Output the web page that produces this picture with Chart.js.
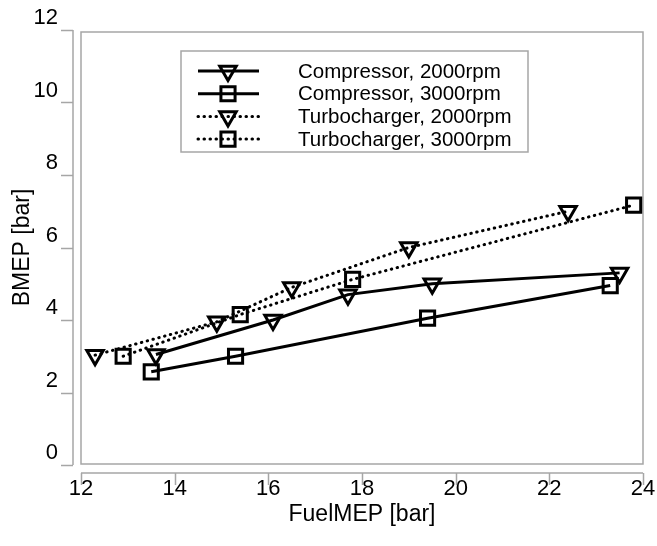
<!DOCTYPE html>
<html>
<head>
<meta charset="utf-8">
<script src="https://cdn.jsdelivr.net/npm/chart.js@4/dist/chart.umd.min.js"></script>
<style>
  html, body { margin: 0; padding: 0; background: #fff; }
  #wrap { width: 657px; height: 546px; }
</style>
</head>
<body>
<div id="wrap"><canvas id="chart" width="657" height="546"></canvas></div>
<script>
// values
const fuelComp2000  = [13.6, 16.1, 17.7, 19.5, 23.5];
const bmepComp2000  = [3.05, 4.0, 4.7, 5.0, 5.3];
const fuelComp3000  = [13.5, 15.3, 19.4, 23.3];
const bmepComp3000  = [2.57, 3.0, 4.05, 4.95];
const fuelTurbo2000 = [12.3, 14.9, 16.5, 19.0, 22.4];
const bmepTurbo2000 = [3.03, 3.95, 4.9, 6.0, 7.0];
const fuelTurbo3000 = [12.9, 15.4, 17.8, 23.8];
const bmepTurbo3000 = [3.0, 4.15, 5.12, 7.17];

const xTicks = [12, 14, 16, 18, 20, 22, 24];
const yTicks = [0, 2, 4, 6, 8, 10, 12];

const FONT = '"Liberation Sans", Arial, sans-serif';
const GRAY = '#a6a6a6';

function pts(xs, ys) { return xs.map((x, i) => ({ x: x, y: ys[i] })); }

function series(label, xs, ys, style, dotted) {
    return {
        label: label,
        data: pts(xs, ys),
        showLine: true,
        borderColor: '#000',
        borderWidth: 3,
        borderDash: dotted ? [0.5, 5.5] : [],
        borderCapStyle: dotted ? 'round' : 'butt',
        pointStyle: style,
        pointRotation: style === 'triangle' ? 180 : 0,
        pointRadius: style === 'triangle' ? 9.5 : 10,
        pointBorderWidth: 3,
        pointBorderColor: '#000',
        pointBackgroundColor: 'rgba(0,0,0,0)',
        tension: 0
    };
}

// frame, offset axes and legend box
const decor = {
    id: 'decor',
    beforeDatasetsDraw(chart) {
        const ctx = chart.ctx, a = chart.chartArea;
        ctx.save();
        ctx.strokeStyle = GRAY;
        ctx.lineWidth = 1.5;
        ctx.strokeRect(a.left, a.top + 2, a.right - a.left, a.bottom - a.top - 3);
        // y axis, moved left of the frame
        const ys = chart.scales.y, xs = chart.scales.x;
        const ax = a.left - 8;
        ctx.beginPath();
        ctx.moveTo(ax, ys.getPixelForValue(12));
        ctx.lineTo(ax, ys.getPixelForValue(0));
        yTicks.forEach(v => {
            const p = Math.round(ys.getPixelForValue(v)) + 0.5;
            ctx.moveTo(ax - 12, p);
            ctx.lineTo(ax, p);
        });
        // x axis, moved below the frame
        const ay = a.bottom + 8;
        ctx.moveTo(xs.getPixelForValue(12), ay);
        ctx.lineTo(xs.getPixelForValue(24), ay);
        xTicks.forEach(v => {
            const p = Math.round(xs.getPixelForValue(v)) + 0.5;
            ctx.moveTo(p, ay);
            ctx.lineTo(p, ay + 12);
        });
        ctx.stroke();
        ctx.restore();
    },
    afterDraw(chart) {
        const ctx = chart.ctx;
        const box = { x: 181, y: 51, w: 347, h: 101 };
        ctx.save();
        ctx.fillStyle = '#fff';
        ctx.fillRect(box.x, box.y, box.w, box.h);
        ctx.strokeStyle = GRAY;
        ctx.lineWidth = 1.5;
        ctx.strokeRect(box.x, box.y, box.w, box.h);
        chart.data.datasets.forEach((ds, i) => {
            const ry = 71 + i * 22.7;
            ctx.strokeStyle = '#000';
            ctx.lineWidth = ds.borderWidth;
            ctx.setLineDash(ds.borderDash);
            ctx.lineCap = ds.borderCapStyle;
            ctx.beginPath();
            ctx.moveTo(198, ry);
            ctx.lineTo(259, ry);
            ctx.stroke();
            ctx.setLineDash([]);
            ctx.lineCap = 'butt';
            ctx.fillStyle = 'rgba(0,0,0,0)';
            Chart.helpers.drawPoint(ctx, {
                pointStyle: ds.pointStyle,
                rotation: ds.pointRotation,
                radius: ds.pointRadius,
                borderWidth: ds.pointBorderWidth
            }, 228, ry);
            ctx.fillStyle = '#000';
            ctx.font = '20.5px ' + FONT;
            ctx.textBaseline = 'middle';
            ctx.textAlign = 'left';
            ctx.fillText(ds.label, 298, ry + 1);
        });
        ctx.restore();
    }
};

new Chart(document.getElementById('chart'), {
    type: 'scatter',
    data: {
        datasets: [
            series('Compressor, 2000rpm', fuelComp2000, bmepComp2000, 'triangle', false),
            series('Compressor, 3000rpm', fuelComp3000, bmepComp3000, 'rect', false),
            series('Turbocharger, 2000rpm', fuelTurbo2000, bmepTurbo2000, 'triangle', true),
            series('Turbocharger, 3000rpm', fuelTurbo3000, bmepTurbo3000, 'rect', true)
        ]
    },
    options: {
        responsive: false,
        animation: false,
        layout: { padding: { top: 30, right: 14, left: 0, bottom: 0 } },
        plugins: { legend: { display: false }, tooltip: { enabled: false } },
        scales: {
            x: {
                type: 'linear', min: 12, max: 24,
                afterBuildTicks: s => { s.ticks = xTicks.map(v => ({ value: v })); },
                afterFit: s => { s.height = 81; s.paddingLeft = 0; s.paddingRight = 0; },
                grid: { display: false, drawTicks: false },
                border: { display: false },
                ticks: { color: '#000', padding: 11, font: { size: 22, family: FONT } },
                title: { display: true, text: 'FuelMEP [bar]', color: '#000',
                         font: { size: 23, family: FONT }, padding: { top: 0, bottom: 18 } }
            },
            y: {
                type: 'linear', min: 0, max: 12,
                afterBuildTicks: s => { s.ticks = yTicks.map(v => ({ value: v })); },
                afterFit: s => { s.width = 81; s.paddingTop = 0; s.paddingBottom = 0; },
                grid: { display: false, drawTicks: false },
                border: { display: false },
                ticks: { color: '#000', padding: 23, labelOffset: -12, font: { size: 22, family: FONT } },
                title: { display: true, text: 'BMEP [bar]', color: '#000',
                         font: { size: 23, family: FONT }, padding: { top: 9, bottom: 0 } }
            }
        }
    },
    plugins: [decor]
});
</script>
</body>
</html>
